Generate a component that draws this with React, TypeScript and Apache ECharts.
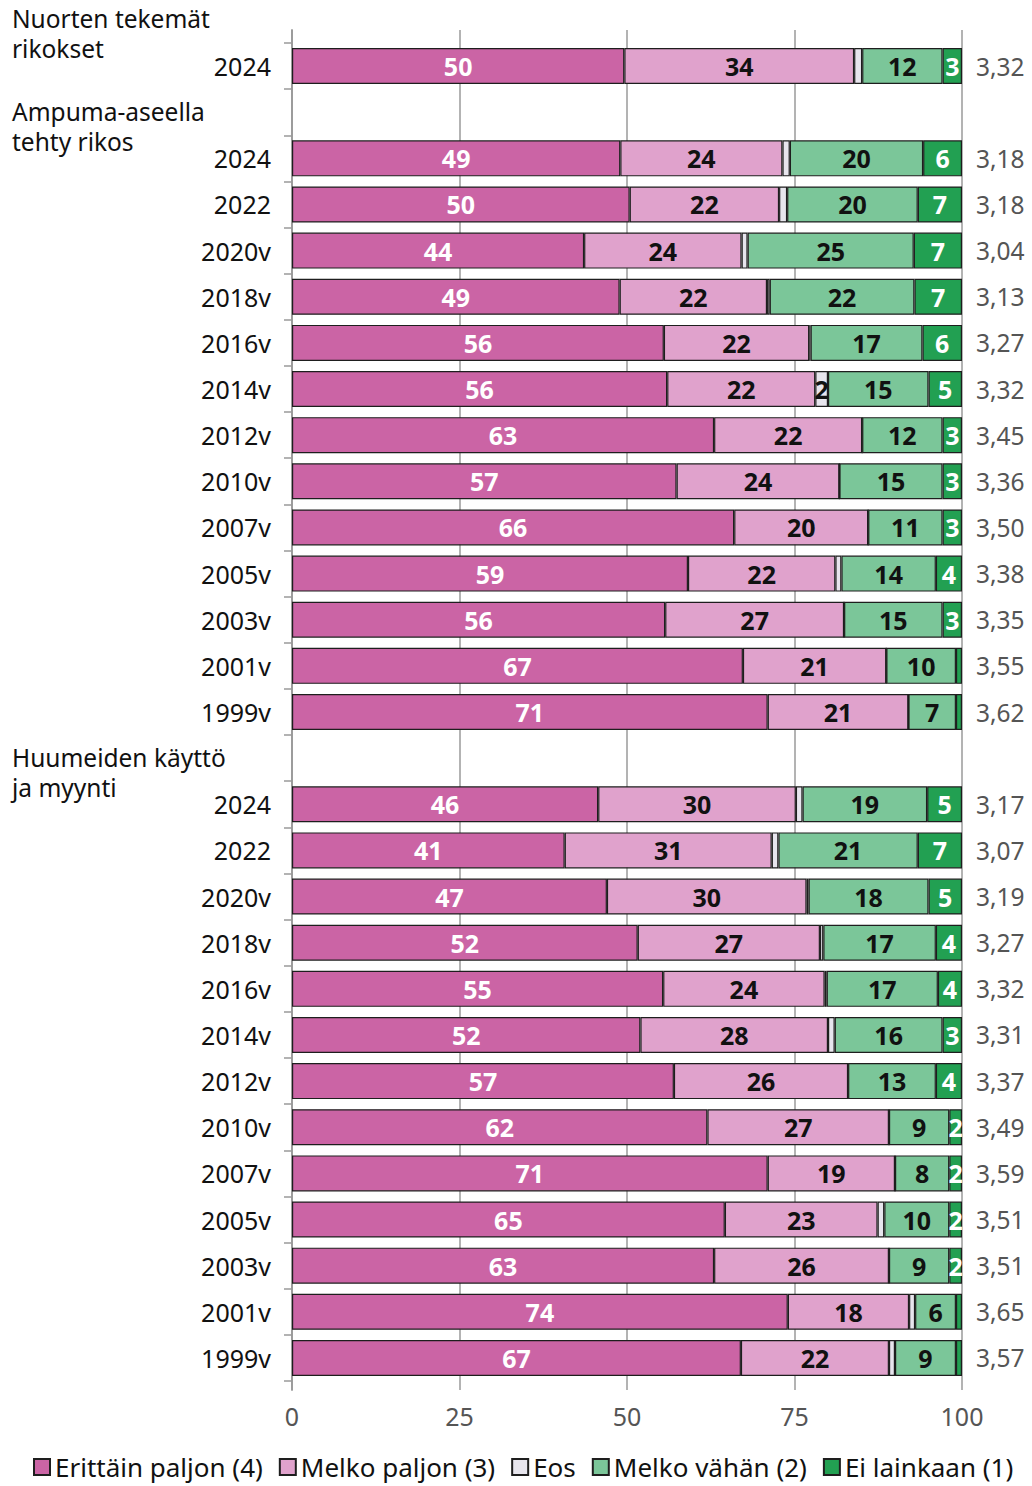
import React, { useEffect, useRef } from "react";
import * as echarts from "echarts";

// ---------- data ----------
const seriesNames = ["Erittäin paljon (4)", "Melko paljon (3)", "Eos", "Melko vähän (2)", "Ei lainkaan (1)"];
const seriesColors = ["#cb64a5", "#e0a2cc", "#e7e5ed", "#7bc699", "#22a052"];
const labelColors = ["#ffffff", "#111111", "#111111", "#111111", "#ffffff"];

const groupTitles = [["Nuorten tekemät", "rikokset"], ["Ampuma-aseella", "tehty rikos"], ["Huumeiden käyttö", "ja myynti"]];

const nuortenYears = ["2024"];
const nuortenErittain = [49.6];
const nuortenMelko = [34.3];
const nuortenEos = [1.2];
const nuortenVahan = [12.0];
const nuortenEi = [2.9];
const nuortenMeans = ["3,32"];

const ampumaYears = ["2024", "2022", "2020v", "2018v", "2016v", "2014v", "2012v", "2010v", "2007v", "2005v", "2003v", "2001v", "1999v"];
const ampumaErittain = [49.0, 50.4, 43.6, 48.9, 55.5, 56.0, 63.0, 57.4, 66.0, 59.1, 55.7, 67.3, 71.0];
const ampumaMelko = [24.2, 22.3, 23.5, 22.0, 21.7, 22.1, 22.1, 24.3, 20.0, 22.0, 26.7, 21.4, 21.0];
const ampumaEos = [1.1, 1.2, 0.9, 0.4, 0.2, 1.9, 0, 0, 0, 0.9, 0, 0, 0];
const ampumaVahan = [19.9, 19.5, 24.8, 21.6, 16.7, 15.0, 12.0, 15.4, 11.1, 14.1, 14.7, 10.4, 7.1];
const ampumaEi = [5.8, 6.6, 7.2, 7.1, 5.9, 5.0, 2.9, 2.9, 2.9, 3.9, 2.9, 0.9, 0.9];
const ampumaMeans = ["3,18", "3,18", "3,04", "3,13", "3,27", "3,32", "3,45", "3,36", "3,50", "3,38", "3,35", "3,55", "3,62"];

const huumeYears = ["2024", "2022", "2020v", "2018v", "2016v", "2014v", "2012v", "2010v", "2007v", "2005v", "2003v", "2001v", "1999v"];
const huumeErittain = [45.7, 40.7, 47.0, 51.6, 55.4, 52.0, 57.0, 62.0, 71.0, 64.6, 63.0, 74.0, 67.0];
const huumeMelko = [29.5, 30.9, 29.8, 27.2, 24.1, 28.0, 26.0, 27.1, 19.0, 22.8, 26.1, 18.1, 22.1];
const huumeEos = [1.0, 1.0, 0.3, 0.5, 0.3, 1.0, 0, 0, 0, 1.0, 0, 0.9, 0.9];
const huumeVahan = [18.6, 20.8, 17.9, 16.8, 16.6, 16.1, 13.1, 9.0, 8.1, 9.7, 9.0, 6.1, 9.1];
const huumeEi = [5.2, 6.6, 5.0, 3.9, 3.6, 2.9, 3.9, 1.9, 1.9, 1.9, 1.9, 0.9, 0.9];
const huumeMeans = ["3,17", "3,07", "3,19", "3,27", "3,32", "3,31", "3,37", "3,49", "3,59", "3,51", "3,51", "3,65", "3,57"];

const xTicks = [0, 25, 50, 75, 100];

// ---------- build rows ----------
const groups = [
  { years: nuortenYears, values: [nuortenErittain, nuortenMelko, nuortenEos, nuortenVahan, nuortenEi], means: nuortenMeans },
  { years: ampumaYears, values: [ampumaErittain, ampumaMelko, ampumaEos, ampumaVahan, ampumaEi], means: ampumaMeans },
  { years: huumeYears, values: [huumeErittain, huumeMelko, huumeEos, huumeVahan, huumeEi], means: huumeMeans },
];

const rowKeys: string[] = [];
const rowLabels: string[] = [];
const rowMeans: string[] = [];
const seriesData: (number | string)[][] = seriesNames.map(() => []);
const groupFirstRow: number[] = [];
groups.forEach((g, gi) => {
  if (gi > 0) {
    rowKeys.push("gap" + gi);
    rowLabels.push("");
    rowMeans.push("");
    seriesData.forEach((s) => s.push("-"));
  }
  groupFirstRow.push(rowKeys.length);
  g.years.forEach((y, i) => {
    rowKeys.push("g" + gi + "_" + y);
    rowLabels.push(y);
    rowMeans.push(g.means[i]);
    g.values.forEach((vals, si) => seriesData[si].push(vals[i]));
  });
});

// ---------- layout ----------
const W = 1032;
const H = 1486;
const PLOT_LEFT = 292;
const PLOT_RIGHT = 70;
const BARS_TOP = 43;
const BARS_HEIGHT = 1338;
const LINES_TOP = 30;
const LINES_BOTTOM = 96;
const FONT = "Noto Sans";
const GRID_GREY = "#9a9a9a";
const FS = 25;
const HEADER_FS = 24.5;
const HEADER_LINE = 30;

export default function App() {
  const ref = useRef<HTMLDivElement>(null);
  useEffect(() => {
    document.body.style.margin = "0";
    if (!ref.current) return;
    const chart = echarts.init(ref.current, undefined, { renderer: "svg" });
    const rowH = BARS_HEIGHT / rowKeys.length;
    const headers: any[] = [];
    groupTitles.forEach((lines, gi) => {
      const center = BARS_TOP + rowH * (groupFirstRow[gi] - 1 + 0.5) - 1;
      lines.forEach((line, li) => {
        headers.push({
          type: "text",
          x: 12,
          y: center + li * HEADER_LINE,
          style: {
            text: line,
            fill: "#111",
            font: `${HEADER_FS}px "${FONT}"`,
            lineHeight: 26,
            verticalAlign: "middle",
            align: "left",
          },
        });
      });
    });
    chart.setOption({
      animation: false,
      textStyle: { fontFamily: FONT },
      grid: [
        { left: PLOT_LEFT, right: PLOT_RIGHT, top: BARS_TOP, height: BARS_HEIGHT, outerBoundsMode: "none" },
        { left: PLOT_LEFT, right: PLOT_RIGHT, top: LINES_TOP, bottom: LINES_BOTTOM, outerBoundsMode: "none" },
      ],
      xAxis: [
        { type: "value", gridIndex: 0, min: 0, max: 100, show: false },
        {
          type: "value",
          gridIndex: 1,
          min: 0,
          max: 100,
          interval: 25,
          axisLine: { show: false },
          axisTick: { show: false },
          splitLine: { show: true, lineStyle: { color: GRID_GREY, width: 1.5 } },
          axisLabel: {
            margin: 13,
            fontSize: FS,
            color: "#555",
            fontFamily: FONT,
            formatter: (v: number) => (xTicks.includes(v) ? String(v) : ""),
          },
        },
      ],
      yAxis: [
        {
          type: "category",
          gridIndex: 0,
          data: rowKeys,
          inverse: true,
          axisLine: { show: false },
          axisTick: { show: true, interval: 0, length: 8, lineStyle: { color: GRID_GREY, width: 1.5 } },
          splitLine: { show: false },
          axisLabel: {
            interval: 0,
            margin: 21,
            fontSize: FS,
            color: "#111",
            fontFamily: FONT,
            formatter: (_v: string, i: number) => rowLabels[i],
          },
        },
        {
          type: "category",
          gridIndex: 0,
          position: "right",
          data: rowKeys,
          inverse: true,
          axisLine: { show: false },
          axisTick: { show: false },
          splitLine: { show: false },
          axisLabel: {
            interval: 0,
            margin: 14,
            fontSize: 24.5,
            color: "#555",
            fontFamily: FONT,
            formatter: (_v: string, i: number) => rowMeans[i],
          },
        },
        {
          type: "value",
          gridIndex: 1,
          min: 0,
          max: 1,
          axisLine: { show: true, lineStyle: { color: GRID_GREY, width: 1.8 } },
          axisTick: { show: false },
          axisLabel: { show: false },
          splitLine: { show: false },
        },
      ],
      legend: {
        top: 1449,
        left: 28,
        itemWidth: 16,
        itemHeight: 16,
        itemGap: 16,
        icon: "rect",
        textStyle: { fontSize: 26, color: "#111", fontFamily: FONT },
        data: seriesNames,
      },
      series: seriesNames.map((name, si) => ({
        name,
        type: "bar",
        stack: "total",
        xAxisIndex: 0,
        yAxisIndex: 0,
        barWidth: 36,
        data: seriesData[si],
        itemStyle: { color: seriesColors[si], borderColor: "#1e1e1e", borderWidth: 1.2 },
        label: {
          show: true,
          position: "inside",
          fontSize: FS,
          fontWeight: "bold",
          fontFamily: FONT,
          color: labelColors[si],
          formatter: (p: any) => {
            const v = Math.round(Number(p.value));
            return v >= 2 ? String(v) : "";
          },
        },
      })),
      graphic: headers,
    });
    return () => chart.dispose();
  }, []);
  return <div ref={ref} style={{ width: W, height: H }} />;
}
